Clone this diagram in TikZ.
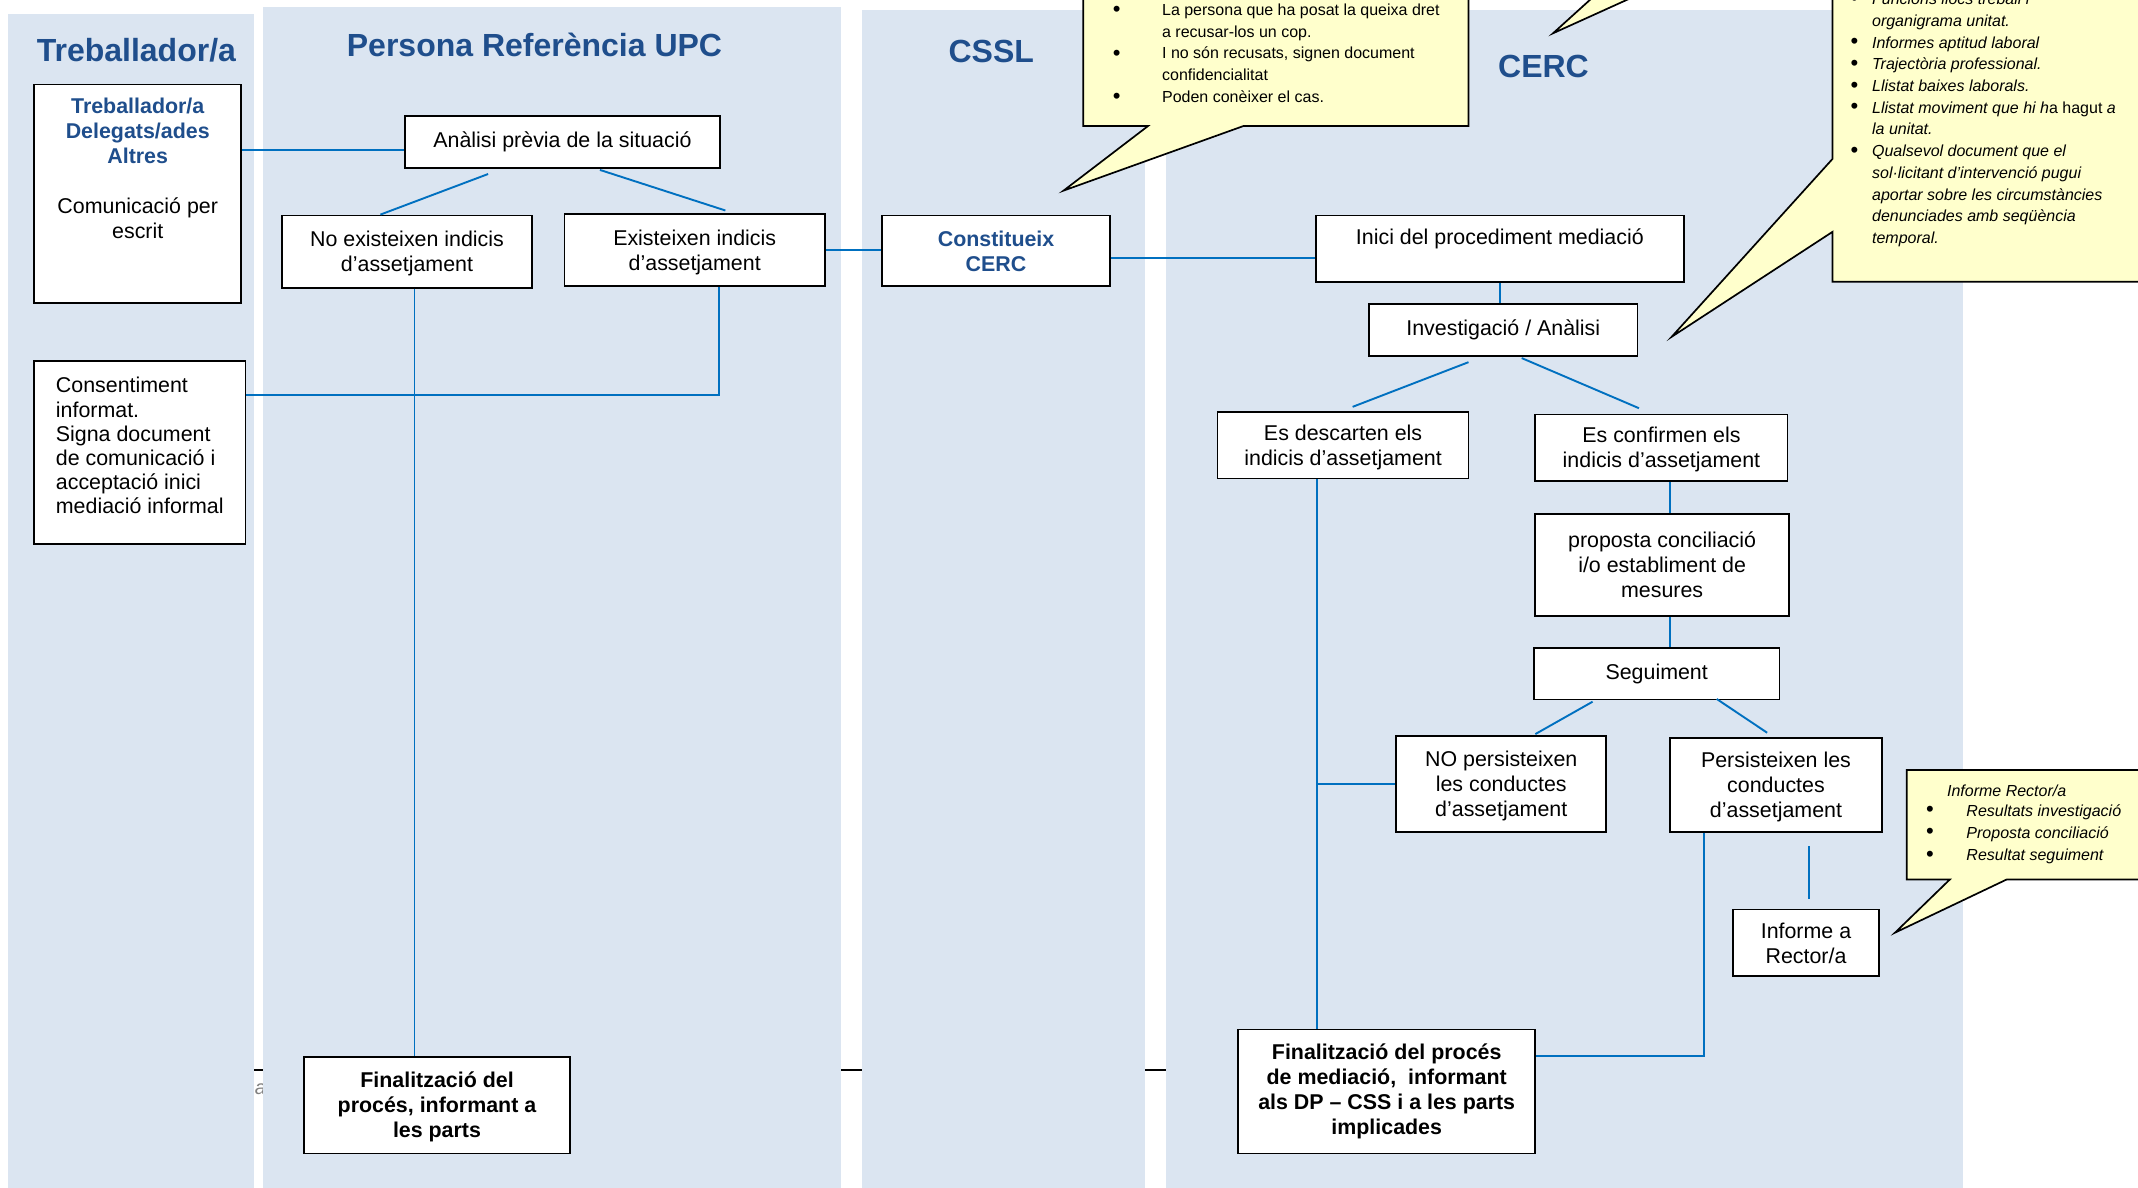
\documentclass[tikz,border=0pt]{standalone}
\usepackage{fontspec}
\setmainfont{Liberation Sans}
\usetikzlibrary{calc}

\definecolor{lanebg}{HTML}{DBE5F1}
\definecolor{ttlblue}{HTML}{1F4E8C}
\definecolor{linkblue}{HTML}{0070C0}
\definecolor{noteyellow}{HTML}{FFFFCC}

\newcommand{\dpx}{0.6818pt}
\newcommand{\blu}[1]{\textcolor{ttlblue}{\bfseries #1}}
% line strut: ascent and descent of a text line
\newcommand{\ws}{\rule[-0.212em]{0pt}{1.117em}}

\tikzset{
  lane/.style={fill=lanebg, draw=none},
  ttl/.style={font=\fontsize{16}{19}\selectfont\bfseries, text=ttlblue, inner sep=0pt},
  sz/.style 2 args={minimum width=#1*\dpx, minimum height=#2*\dpx},
  box/.style={draw=black, line width=0.85pt, fill=white, inner sep=0pt, align=center,
    font=\fontsize{10.7}{12.5}\selectfont},
  bbox/.style={box, font=\fontsize{10.7}{12.5}\selectfont\bfseries},
  link/.style={draw=linkblue, line width=0.95pt},
  note/.style={draw=black, line width=0.85pt, fill=noteyellow, line join=miter},
  notetxt/.style={font=\fontsize{8}{10.84}\selectfont, align=left, inner sep=0pt},
  bull/.style={font=\fontsize{11}{11}\selectfont, inner sep=0pt, yshift=-1pt},
}

\begin{document}
\begin{tikzpicture}[x=0.6818pt, y=-0.6818pt]
  \path[use as bounding box, clip] (0,0) rectangle (1568,871);
  % footer rule and stray letter behind the lanes
  \draw[line width=1pt] (180,785) -- (860,785);
  \node[font=\fontsize{10}{12}\selectfont\itshape, text=gray, inner sep=0pt] (stray) at (191,799) {a};
  % lanes
  \fill[lane] (6,10) rectangle (186,880);
  \fill[lane] (193,5) rectangle (617,880);
  \fill[lane] (632,7) rectangle (840,880);
  \fill[lane] (855,7) rectangle (1440,880);
  % lane titles
  \node[ttl] (ttrab) at (100,37) {Treballador/a};
  \node[ttl] (tupc) at (392,33) {Persona Referència UPC};
  \node[ttl] (tcssl) at (727,38) {CSSL};
  \node[ttl] (tcerc) at (1132,49) {CERC};

  % boxes
  \node[box, sz={152}{160}] (trab) at (101,142)
    {\blu{Treballador/a}\\\blu{Delegats/ades}\\\blu{Altres}\\\mbox{}\\Comunicació per\\escrit\\\mbox{}\\\mbox{}};
  \node[box, sz={231}{38}] (ana) at (412.5,104) {Anàlisi prèvia de la situació};
  \node[box, sz={183}{53}] (noex) at (298.5,184.5) {\ws No existeixen indicis\\d’assetjament\ws};
  \node[box, sz={191}{53}] (ex) at (509.5,183.5) {\ws Existeixen indicis\\d’assetjament\ws};
  \node[box, sz={155}{134}, align=left, font=\fontsize{10.7}{12.1}\selectfont] (cons) at (102.5,332)
    {Consentiment\\informat.\\Signa document\\de comunicació i\\acceptació inici\\mediació informal\rule[-7pt]{0pt}{0pt}};
  \node[box, sz={167}{52}] (const) at (730.5,184) {\blu{Constitueix}\\\blu{CERC}};
  \node[box, sz={270}{49}] (inici) at (1100,182.5) {Inici del procediment mediació\\\mbox{}};
  \node[box, sz={197}{38}] (inv) at (1102.5,242) {Investigació / Anàlisi};
  \node[box, sz={184}{49}] (desc) at (985,326.5) {\ws Es descarten els\\indicis d’assetjament\ws};
  \node[box, sz={185}{49}] (conf) at (1218.5,328.5) {\ws Es confirmen els\\indicis d’assetjament\ws};
  \node[box, sz={186}{75}] (prop) at (1219,414.5) {proposta conciliació\\i/o establiment de\\mesures};
  \node[box, sz={180}{38}] (seg) at (1215,494) {Seguiment};
  \node[box, sz={154}{70}] (nop) at (1101,575) {\ws NO persisteixen\\les conductes\\d’assetjament\ws};
  \node[box, sz={155}{69}] (pers) at (1302.5,575.5) {\ws Persisteixen les\\conductes\\d’assetjament\ws};
  \node[box, sz={107}{49}] (inf) at (1324.5,691.5) {Informe a\\Rector/a};
  \node[bbox, sz={218}{91}] (fcerc) at (1017,800.5)
    {Finalització del procés\\de mediació,~ informant\\als DP – CSS i a les parts\\implicades};
  \node[bbox, sz={195}{71}] (fupc) at (320.5,810.5) {\ws Finalització del\\procés, informant a\\les parts\ws};

  % connectors
  \coordinate (t1) at ($(trab.north east)!0.3!(trab.south east)$);
  \draw[link] (t1) -- (t1 -| ana.west);
  \draw[link] ($(ana.south)+(-54.5,4)$) -- ($(noex.north)+(-19.5,0)$);
  \draw[link] ($(ana.south)+(27.5,1)$) -- ($(ex.north)+(22.5,-2)$);
  \draw[link] (ex.east) -- (ex.east -| const.west);
  \coordinate (c1) at ($(const.east)+(0,5)$);
  \draw[link] (c1) -- (c1 -| inici.west);
  \draw[link] (inici.south) -- (inici.south |- inv.north);
  \draw[link] ($(inv.south)+(-25.5,4)$) -- ($(desc.north)+(7,-3)$);
  \draw[link] ($(inv.south)+(13.5,1)$) -- ($(conf.north)+(-16.5,-4)$);
  \coordinate (k1) at ($(conf.south)+(6.5,0)$);
  \draw[link] (k1) -- (k1 |- prop.north);
  \coordinate (k2) at ($(prop.south)+(6,0)$);
  \draw[link] (k2) -- (k2 |- seg.north);
  \draw[link] ($(seg.south)+(-47,1)$) -- ($(nop.north)+(25,-1)$);
  \draw[link] ($(seg.south)+(44,-1)$) -- ($(pers.north)+(-6.5,-3)$);
  \coordinate (d1) at ($(desc.south)+(-19,0)$);
  \draw[link] (d1) -- (d1 |- fcerc.north);
  \draw[link] (nop.west) -- (nop.west -| d1);
  \coordinate (p1) at ($(pers.south)+(-52.5,0)$);
  \draw[link] (p1) |- ($(fcerc.north east)+(0,20)$);
  \draw[link] ($(pers.south)+(24.5,10)$) -- ($(inf.north)+(2.5,-7)$);
  \coordinate (n1) at ($(noex.south)+(5.5,0)$);
  \draw[link] (n1) -- (n1 |- fupc.north);
  \coordinate (e1) at ($(ex.south)+(17.5,0)$);
  \draw[link] (e1) |- ($(cons.north east)+(0,25)$);

  % callouts
  \draw[note] (794.5,-20) -- (1077,-20) -- (1077,92.4) -- (912,92.4) -- (780,139.8)
    -- (842,92.4) -- (794.5,92.4) -- cycle;
  \foreach \y [count=\i] in {7,38.8,70.6}
    \node[bull] (bulla\i) at (819,\y) {\textbullet};
  \node[notetxt, anchor=north west] (notea) at (852,2.6)
    {La persona que ha posat la queixa dret\\a recusar-los un cop.\\I no són recusats, signen document\\confidencialitat\\Poden conèixer el cas.};

  \draw[note] (1177,-10) -- (1139,24.4) -- (1215,-10) -- cycle;

  \draw[note] (1344,-20) -- (1600,-20) -- (1600,206.6) -- (1344,206.6) -- (1344,170)
    -- (1226,247) -- (1344,116.5) -- cycle;
  \foreach \y [count=\i] in {-1.2,30.6,46.5,62.4,78.3,110.1}
    \node[bull] (bullb\i) at (1360,\y) {\textbullet};
  \node[notetxt, font=\fontsize{8}{10.84}\selectfont\itshape, anchor=north west] (noteb) at (1372.7,-5.2)
    {Funcions llocs treball i\\organigrama unitat.\\Informes aptitud laboral\\Trajectòria professional.\\Llistat baixes laborals.\\Llistat moviment que hi h{\upshape a hagut} a\\la unitat.\\Qualsevol document que el\\sol·licitant d’intervenció pugui\\aportar sobre les circumstàncies\\denunciades amb seqüència\\temporal.};

  \draw[note] (1398.4,564.7) -- (1600,564.7) -- (1600,645) -- (1471.7,645) -- (1389.8,684)
    -- (1430,645) -- (1398.4,645) -- cycle;
  \node[notetxt, font=\fontsize{8}{10.84}\selectfont\itshape, anchor=north west] (notec) at (1427.7,575.4) {Informe Rector/a};
  \foreach \y [count=\i] in {593.6,610,626.3}
    \node[bull] (bullc\i) at (1415.5,\y) {\textbullet};
  \node[notetxt, font=\fontsize{8}{11.1}\selectfont\itshape, anchor=north west] (notecl) at (1441.9,589.6)
    {Resultats investigació\\Proposta conciliació\\Resultat seguiment};
\end{tikzpicture}
\end{document}
